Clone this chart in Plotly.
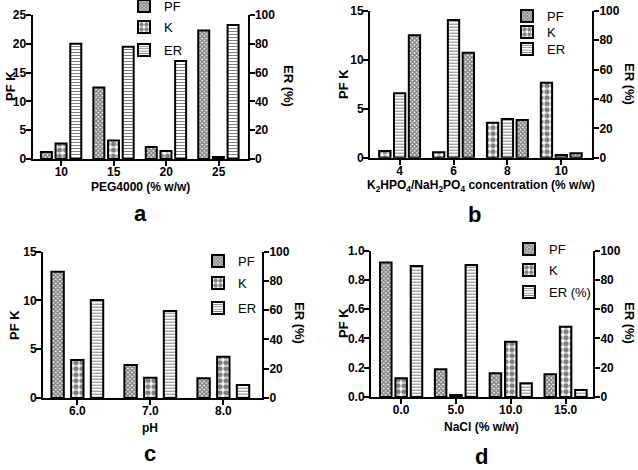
import plotly.graph_objects as go

W, H = 638, 470

# ---------------- data ----------------
cat_a = ["10", "15", "20", "25"]
pf_a = [1.2, 12.4, 2.1, 22.3]
k_a = [2.7, 3.2, 1.4, 0.35]
er_a = [80, 78, 68, 93]

cat_b = ["4", "6", "8", "10"]
pf_b = [12.5, 10.7, 3.85, 0.45]
k_b = [0.68, 0.55, 3.57, 7.65]
er_b = [43.8, 93.7, 26.3, 1.8]

cat_c = ["6.0", "7.0", "8.0"]
pf_c = [12.95, 3.38, 2.02]
k_c = [3.9, 2.08, 4.23]
er_c = [67, 59.5, 8.9]

cat_d = ["0.0", "5.0", "10.0", "15.0"]
pf_d = [0.92, 0.19, 0.162, 0.155]
k_d = [0.128, 0.014, 0.378, 0.48]
er_d = [89.5, 90.2, 9.4, 4.8]

# ---------------- helpers ----------------
def px(x):
    return x / W

def py(y):
    return 1 - y / H

FONT = "Liberation Sans, Arial, sans-serif"

PAT = {
    "PF": dict(shape="x", size=3, solidity=0.7, fgcolor="black", bgcolor="white", fillmode="overlay"),
    "K": dict(shape=".", size=6, solidity=0.6, fgcolor="black", bgcolor="white", fillmode="overlay"),
    "ER": dict(shape="-", size=3, solidity=0.35, fgcolor="black", bgcolor="white", fillmode="overlay"),
}

fig = go.Figure()

panels = [
    dict(cats=cat_a, pf=pf_a, k=k_a, er=er_a, xd=(32.5, 247.5), yd=(15, 159), ymax=25, dt=5, fmt="d",
         xr=[-0.55, 3.55], w=0.21, off=(-0.39, -0.11, 0.17), er_name="ER",
         leg_x=149, leg_y=(6, 27, 50)),
    dict(cats=cat_b, pf=pf_b, k=k_b, er=er_b, xd=(370, 592), yd=(10.7, 157.7), ymax=15, dt=5, fmt="d",
         xr=[-0.55, 3.57], w=0.21, off=(0.17, -0.38, -0.105), er_name="ER",
         leg_x=532, leg_y=(16, 32, 49)),
    dict(cats=cat_c, pf=pf_c, k=k_c, er=er_c, xd=(43, 262), yd=(251.7, 398), ymax=15, dt=5, fmt="d",
         xr=[-0.47, 2.53], w=0.17, off=(-0.355, -0.085, 0.185), er_name="ER",
         leg_x=223, leg_y=(261, 283, 308)),
    dict(cats=cat_d, pf=pf_d, k=k_d, er=er_d, xd=(371, 593), yd=(250.7, 397), ymax=1.0, dt=0.2, fmt=".1f",
         xr=[-0.55, 3.5], w=0.21, off=(-0.385, -0.105, 0.175), er_name="ER (%)",
         leg_x=534, leg_y=(249, 270, 292)),
]

axis_common = dict(showline=True, linewidth=2, linecolor="black", ticks="outside",
                   ticklen=5, tickwidth=2, tickcolor="black", showgrid=False, zeroline=False,
                   tickfont=dict(family=FONT, size=12, color="black", weight="bold"))

leg_idx = 0
for i, p in enumerate(panels):
    n = i + 1
    xa = "x" if n == 1 else f"x{n}"
    ya_l = "y" if n == 1 else f"y{2 * n - 1}"
    ya_r = f"y{2 * n}"
    series = [("PF", p["pf"], ya_l, p["off"][0]),
              ("K", p["k"], ya_l, p["off"][1]),
              (p["er_name"], p["er"], ya_r, p["off"][2])]
    for j, (name, vals, ya, off) in enumerate(series):
        key = ["PF", "K", "ER"][j]
        leg_idx += 1
        leg = "legend" if leg_idx == 1 else f"legend{leg_idx}"
        fig.add_trace(go.Bar(
            x=p["cats"], y=vals, name=name, xaxis=xa, yaxis=ya,
            width=p["w"], offset=off,
            marker=dict(color="white", line=dict(color="black", width=2), pattern=PAT[key]),
            legend=leg, showlegend=True, hoverinfo="skip",
        ))
        fig.layout[leg] = dict(x=px(p["leg_x"] - 25), y=py(p["leg_y"][j]), xanchor="left",
                               yanchor="middle", xref="paper", yref="paper",
                               bgcolor="rgba(0,0,0,0)",
                               font=dict(family=FONT, size=13, color="black"))

    xkey = "xaxis" if n == 1 else f"xaxis{n}"
    ylkey = "yaxis" if n == 1 else f"yaxis{2 * n - 1}"
    yrkey = f"yaxis{2 * n}"
    x0, x1 = p["xd"]
    yt, yb = p["yd"]
    fig.layout[xkey] = dict(domain=[px(x0), px(x1)], anchor=ya_l, type="category",
                            range=p["xr"], ticklabelstandoff=-4, **axis_common)
    fig.layout[ylkey] = dict(domain=[py(yb), py(yt)], anchor=xa, range=[0, p["ymax"]],
                             dtick=p["dt"], tick0=0, tickformat=p["fmt"],
                             ticklabelstandoff=-3, **axis_common)
    fig.layout[yrkey] = dict(domain=[py(yb), py(yt)], anchor=xa, overlaying=ya_l, side="right",
                             range=[0, 100], dtick=20, tick0=0, ticklabelstandoff=-2,
                             **axis_common)

# ---------------- annotations ----------------
ann = []

def add(text, x, y, size=12, angle=0):
    ann.append(dict(text=text, x=px(x), y=py(y), xref="paper", yref="paper", showarrow=False,
                    textangle=angle, xanchor="center", yanchor="middle",
                    font=dict(family=FONT, size=size, color="black", weight="bold")))

# y titles
add("PF K", 11, 86, 13, -90)
add("ER (%)", 288, 86, 13, 90)
add("PF K", 343, 84, 13, -90)
add("ER (%)", 630, 84, 13, 90)
add("PF K", 14, 325, 13, -90)
add("ER (%)", 300, 323, 13, 90)
add("PF K", 343, 323, 13, -90)
add("ER (%)", 630, 323, 13, 90)

# x titles
add("PEG4000 (% w/w)", 140, 187, 12)
add("K<sub>2</sub>HPO<sub>4</sub>/NaH<sub>2</sub>PO<sub>4</sub> concentration (% w/w)", 481, 186, 12)
add("pH", 150, 428, 12)
add("NaCl (% w/w)", 481, 427, 12)

# panel letters
add("a", 140, 213, 22)
add("b", 474, 215, 22)
add("c", 150, 453, 22)
add("d", 481, 456, 22)

fig.update_layout(
    width=W, height=H, autosize=False,
    margin=dict(l=0, r=0, t=0, b=0, autoexpand=False),
    paper_bgcolor="white", plot_bgcolor="white",
    barmode="overlay",
    annotations=ann,
    font=dict(family=FONT, color="black"),
)

fig.write_html("out.html", config={"displayModeBar": False},
               post_script="document.body.style.margin='0';document.body.style.overflow='hidden';")
